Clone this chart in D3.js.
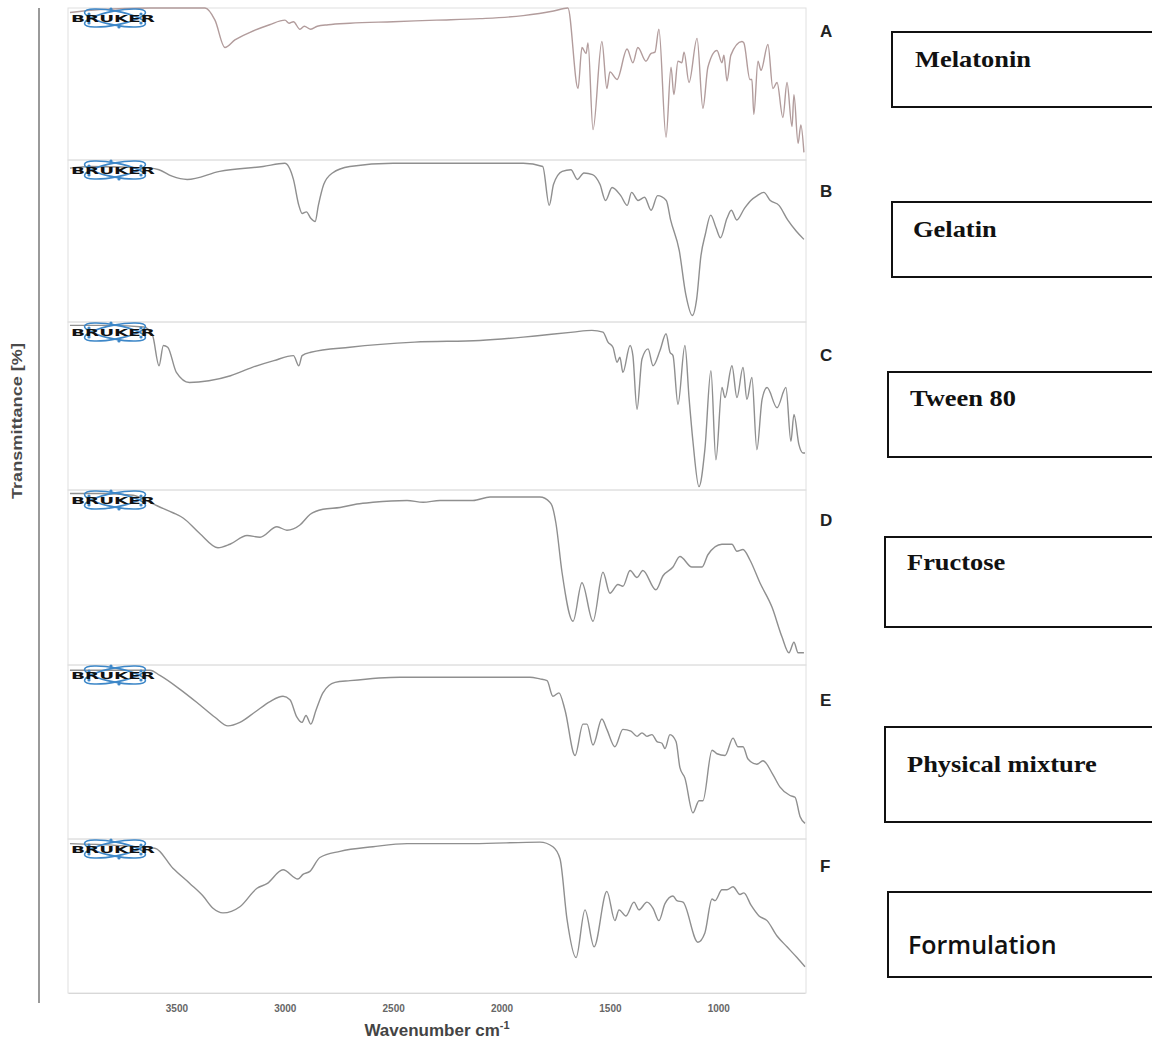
<!DOCTYPE html>
<html>
<head>
<meta charset="utf-8">
<script src="https://cdn.jsdelivr.net/npm/d3@7"></script>
<style>
  body { margin: 0; background: #fff; }
  svg { display: block; }
</style>
</head>
<body>
<div id="chart"></div>
<script>
const panelLetters = ['A', 'B', 'C', 'D', 'E', 'F'];
const sampleNames = ['Melatonin', 'Gelatin', 'Tween 80', 'Fructose', 'Physical mixture', 'Formulation'];
const xTicks = [3500, 3000, 2500, 2000, 1500, 1000];

// [wavenumber cm-1, transmittance % of panel height]
const melatonin = [
  [3991, 97], [3852, 99], [3622, 100], [3391, 100], [3368, 100], [3322, 92], [3276, 74], [3230, 79],
  [3160, 84], [3070, 89], [2999, 92], [2980, 90], [2960, 91], [2930, 86], [2910, 88], [2880, 86],
  [2850, 88], [2800, 89], [2700, 90], [2500, 91], [2300, 92], [2100, 93], [1900, 95], [1760, 98],
  [1694, 100], [1647, 47], [1629, 74], [1610, 70], [1601, 77], [1578, 20], [1537, 78], [1514, 47],
  [1500, 58], [1467, 53], [1421, 73], [1394, 64], [1371, 74], [1334, 65], [1311, 70], [1292, 71],
  [1274, 86], [1241, 15], [1218, 61], [1205, 43], [1186, 65], [1168, 64], [1158, 71], [1135, 51],
  [1098, 80], [1071, 34], [1048, 61], [1006, 72], [983, 64], [974, 69], [960, 52], [942, 69],
  [891, 78], [882, 77], [854, 53], [845, 53], [836, 30], [817, 65], [803, 59], [771, 76],
  [748, 47], [729, 51], [702, 28], [683, 51], [660, 22], [651, 43], [632, 11], [619, 23], [605, 5]
];
const gelatin = [
  [3991, 95], [3900, 96], [3622, 95], [3580, 94], [3520, 90], [3450, 88], [3300, 93], [3100, 96],
  [3000, 98], [2960, 88], [2935, 72], [2920, 67], [2900, 68], [2880, 64], [2860, 62], [2845, 72],
  [2820, 85], [2780, 92], [2700, 96], [2500, 98], [2200, 98], [1900, 98], [1810, 96], [1780, 72],
  [1760, 85], [1720, 93], [1680, 94], [1650, 88], [1620, 92], [1580, 91], [1546, 85], [1520, 75],
  [1490, 83], [1450, 78], [1420, 72], [1400, 80], [1370, 75], [1340, 77], [1310, 69], [1280, 78],
  [1240, 75], [1220, 63], [1180, 44], [1150, 17], [1120, 4], [1100, 14], [1080, 41], [1060, 54],
  [1035, 66], [1010, 58], [990, 52], [960, 64], [940, 69], [915, 63], [880, 70], [850, 75],
  [820, 78], [790, 80], [760, 75], [720, 72], [680, 63], [640, 56], [605, 51]
];
const tween80 = [
  [3991, 98], [3800, 98], [3650, 97], [3610, 92], [3580, 74], [3560, 86], [3540, 85], [3500, 70],
  [3440, 64], [3350, 65], [3250, 68], [3150, 73], [3050, 77], [2960, 80], [2935, 74], [2920, 80],
  [2880, 82], [2700, 85], [2400, 88], [2100, 89], [1900, 91], [1823, 92], [1670, 94], [1583, 95],
  [1532, 94], [1509, 88], [1486, 85], [1467, 76], [1454, 79], [1440, 70], [1407, 86], [1394, 80],
  [1375, 48], [1352, 78], [1324, 84], [1301, 74], [1269, 83], [1241, 93], [1223, 82], [1209, 80],
  [1186, 51], [1154, 86], [1135, 55], [1117, 29], [1089, 2], [1062, 24], [1034, 71], [1011, 18],
  [983, 61], [969, 55], [937, 74], [914, 55], [886, 73], [868, 54], [845, 67], [822, 24],
  [798, 54], [775, 61], [729, 49], [688, 61], [665, 29], [651, 45], [628, 27], [609, 22], [600, 22]
];
const fructose = [
  [3991, 98], [3850, 98], [3700, 97], [3622, 93], [3589, 91], [3516, 87], [3469, 84], [3391, 75],
  [3308, 67], [3253, 69], [3174, 74], [3114, 73], [3036, 79], [2990, 77], [2930, 80], [2884, 86],
  [2824, 89], [2745, 90], [2667, 92], [2593, 93], [2436, 94], [2362, 93], [2284, 94], [2132, 94],
  [2053, 96], [1823, 96], [1777, 93], [1767, 91], [1749, 81], [1721, 53], [1670, 25], [1629, 47],
  [1578, 25], [1532, 53], [1500, 41], [1463, 46], [1440, 45], [1407, 54], [1375, 50], [1348, 54],
  [1288, 43], [1255, 51], [1209, 56], [1177, 62], [1122, 56], [1075, 56], [1048, 63], [983, 69],
  [937, 69], [914, 65], [886, 66], [854, 60], [808, 47], [752, 33], [706, 16], [674, 7],
  [651, 13], [632, 7], [605, 7]
];
const physicalMixture = [
  [3991, 97], [3622, 97], [3576, 94], [3483, 86], [3391, 77], [3322, 70], [3262, 65], [3207, 67],
  [3137, 73], [3068, 79], [3008, 82], [2976, 80], [2944, 70], [2921, 67], [2902, 71], [2880, 66],
  [2856, 74], [2824, 84], [2768, 90], [2699, 91], [2469, 93], [2100, 93], [1869, 93], [1823, 92],
  [1790, 91], [1763, 82], [1735, 84], [1707, 74], [1661, 48], [1624, 66], [1606, 66], [1578, 54],
  [1537, 69], [1514, 63], [1477, 53], [1440, 63], [1403, 62], [1375, 59], [1352, 61], [1329, 59],
  [1306, 60], [1283, 56], [1260, 55], [1246, 52], [1223, 60], [1195, 56], [1177, 41], [1154, 35],
  [1117, 15], [1089, 22], [1071, 22], [1029, 51], [1006, 49], [969, 48], [932, 58], [909, 53],
  [886, 53], [863, 46], [822, 43], [794, 45], [748, 37], [716, 30], [669, 25], [646, 24],
  [623, 13], [600, 9]
];
const formulation = [
  [3991, 97], [3599, 94], [3516, 81], [3437, 71], [3377, 63], [3331, 55], [3285, 52], [3207, 56],
  [3128, 68], [3082, 71], [3008, 80], [2939, 74], [2916, 77], [2884, 79], [2838, 88], [2745, 92],
  [2593, 95], [2436, 97], [2132, 97], [1823, 98], [1763, 95], [1730, 87], [1698, 48], [1656, 23],
  [1615, 54], [1573, 30], [1514, 66], [1477, 47], [1458, 54], [1426, 50], [1389, 59], [1366, 54],
  [1329, 59], [1301, 55], [1274, 47], [1246, 58], [1209, 63], [1191, 60], [1163, 59], [1094, 33],
  [1062, 39], [1029, 61], [1015, 60], [983, 67], [960, 67], [932, 69], [900, 64], [882, 65],
  [849, 57], [812, 50], [775, 47], [729, 37], [683, 30], [637, 23], [600, 17]
];

const spectra = [melatonin, gelatin, tween80, fructose, physicalMixture, formulation];

const W = 1152, H = 1047;
const plotLeft = 68, plotRight = 806;
const panelEdges = [8, 160, 322, 490, 665, 839, 993];
const letterBase = [37, 197, 361, 526, 706, 872];
const boxes = [
  { x: 892, y: 32, h: 75, tx: 915, ty: 67 },
  { x: 892, y: 202, h: 75, tx: 913, ty: 237 },
  { x: 888, y: 372, h: 85, tx: 910, ty: 406 },
  { x: 885, y: 537, h: 90, tx: 907, ty: 570 },
  { x: 885, y: 727, h: 95, tx: 907, ty: 772 },
  { x: 888, y: 892, h: 85, tx: 908, ty: 954 }
];

const svg = d3.select('#chart').append('svg')
  .attr('width', W)
  .attr('height', H)
  .style('font-family', 'Liberation Sans, Arial, sans-serif');

const x = d3.scaleLinear().domain([4000, 600]).range([plotLeft, 805]);

// left spine
svg.append('line')
  .attr('x1', 39).attr('x2', 39)
  .attr('y1', 8).attr('y2', 1003)
  .attr('stroke', '#9a9a9a')
  .attr('stroke-width', 2);

svg.append('text')
  .text('Transmittance [%]')
  .attr('transform', 'translate(22,421) rotate(-90)')
  .attr('text-anchor', 'middle')
  .attr('font-size', 15)
  .attr('textLength', 156)
  .attr('lengthAdjust', 'spacingAndGlyphs')
  .attr('font-weight', 'bold')
  .attr('fill', '#4a4a4a');

function drawLogo(g, top) {
  const cx = 115, cy = top + 10;
  [-11, 11].forEach(a => {
    g.append('ellipse')
      .attr('cx', cx).attr('cy', cy)
      .attr('rx', 31).attr('ry', 7)
      .attr('transform', `rotate(${a},${cx},${cy})`)
      .attr('fill', 'none')
      .attr('stroke', '#3d87c8')
      .attr('stroke-width', 1.6);
  });
  [[-26, -4], [26, -4], [-4, -9], [4, 9], [-26, 5], [26, 5]].forEach(p => {
    g.append('circle').attr('cx', cx + p[0]).attr('cy', cy + p[1]).attr('r', 1.6).attr('fill', '#3d87c8');
  });
  g.append('text')
    .text('BRUKER')
    .attr('x', 71).attr('y', cy + 3.5)
    .attr('textLength', 84)
    .attr('lengthAdjust', 'spacingAndGlyphs')
    .attr('font-size', 9)
    .attr('font-weight', 900)
    .attr('font-family', 'DejaVu Sans, sans-serif')
    .attr('fill', '#111');
}

spectra.forEach((data, i) => {
  const top = panelEdges[i], bottom = panelEdges[i + 1];
  const y = d3.scaleLinear().domain([0, 100]).range([bottom, top]);
  const g = svg.append('g');

  g.append('rect')
    .attr('x', plotLeft).attr('y', top)
    .attr('width', plotRight - plotLeft).attr('height', bottom - top)
    .attr('fill', 'none')
    .attr('stroke', '#e0e0e0');

  const line = d3.line()
    .x(d => x(d[0]))
    .y(d => y(d[1]))
    .curve(d3.curveMonotoneX);

  g.append('path')
    .datum(data)
    .attr('d', line)
    .attr('fill', 'none')
    .attr('stroke', i === 0 ? '#b29c9c' : '#8f8f8f')
    .attr('stroke-width', 1.4);

  drawLogo(g, top);

  svg.append('text')
    .text(panelLetters[i])
    .attr('x', 820).attr('y', letterBase[i])
    .attr('font-size', 17)
    .attr('font-weight', 'bold')
    .attr('fill', '#222');

  const b = boxes[i];
  svg.append('rect')
    .attr('x', b.x).attr('y', b.y)
    .attr('width', 300).attr('height', b.h)
    .attr('fill', 'none')
    .attr('stroke', '#111')
    .attr('stroke-width', 2);

  const last = i === sampleNames.length - 1;
  const label = svg.append('text')
    .text(sampleNames[i])
    .attr('fill', '#111');
  if (last) {
    label.attr('x', b.tx).attr('y', b.ty)
      .attr('font-family', 'Open Sans, sans-serif')
      .attr('font-weight', 600)
      .attr('font-size', 25);
  } else {
    // the serif labels are drawn slightly stretched sideways, as in the figure
    label.attr('transform', `translate(${b.tx},${b.ty}) scale(1.15,1)`)
      .attr('font-family', 'Liberation Serif, Times New Roman, serif')
      .attr('font-weight', 'bold')
      .attr('font-size', 23);
  }
});

// x axis
const axis = svg.append('g')
  .attr('transform', `translate(0,${panelEdges[6]})`)
  .call(d3.axisBottom(x).tickValues(xTicks).tickSize(0).tickPadding(12).tickFormat(d3.format('d')));
axis.select('.domain').attr('stroke', '#d8d8d8');
axis.selectAll('text')
  .attr('font-size', 10)
  .attr('font-weight', 'bold')
  .attr('font-family', 'Liberation Sans, Arial, sans-serif')
  .attr('fill', '#666');

const xLabel = svg.append('text')
  .attr('x', 437).attr('y', 1036)
  .attr('text-anchor', 'middle')
  .attr('font-size', 17)
  .attr('font-weight', 'bold')
  .attr('fill', '#444');
xLabel.append('tspan').text('Wavenumber cm');
xLabel.append('tspan').text('-1').attr('font-size', 11).attr('dy', -7);
</script>
</body>
</html>
